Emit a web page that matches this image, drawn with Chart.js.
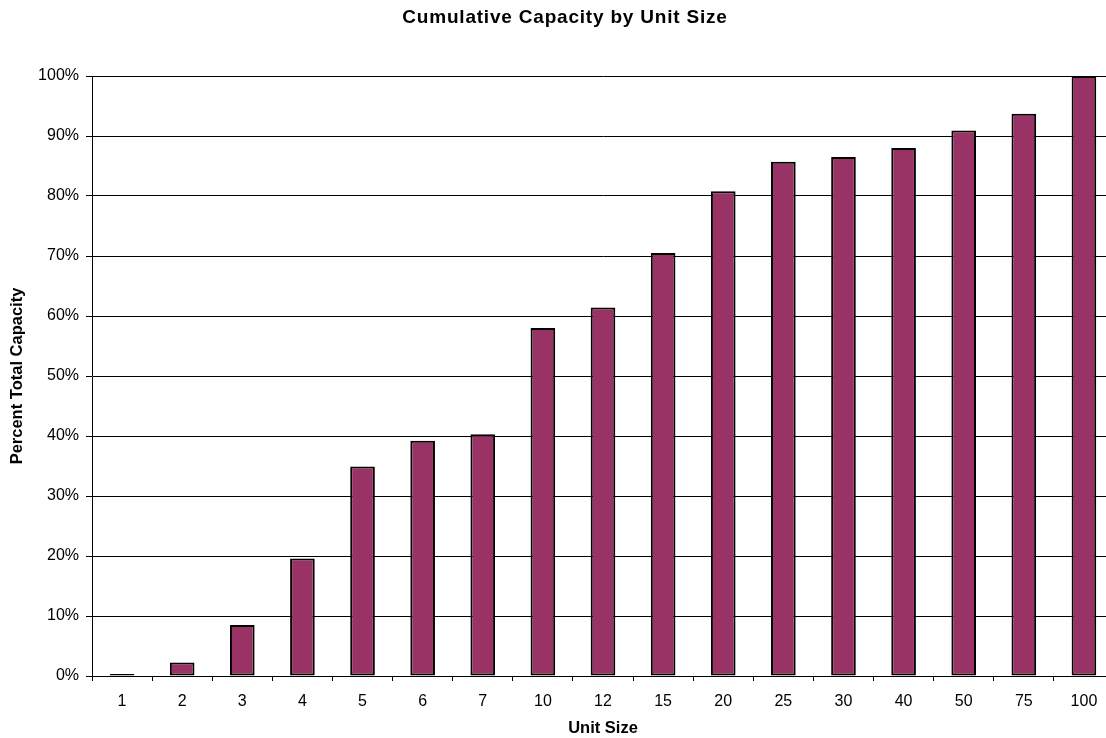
<!DOCTYPE html>
<html>
<head>
<meta charset="utf-8">
<title>Cumulative Capacity by Unit Size</title>
<script src="https://cdn.jsdelivr.net/npm/chart.js@4.4.1/dist/chart.umd.min.js"></script>
<style>
  html, body { margin: 0; padding: 0; background: #fff; overflow: hidden; width: 1106px; height: 738px; }
  canvas { display: block; }
</style>
</head>
<body>
<canvas id="chart" width="1120" height="738"></canvas>
<script>
// Unit size categories along the x axis
const unitSizes = ['1', '2', '3', '4', '5', '6', '7', '10', '12', '15', '20', '25', '30', '40', '50', '75', '100'];
// Cumulative share of total capacity (percent) up to each unit size
const cumulativePct = [0.35, 2.25, 8.5, 19.6, 34.9, 39.2, 40.3, 58.0, 61.4, 70.5, 80.8, 85.7, 86.5, 88.0, 90.9, 93.7, 100];
// Value axis ticks (percent)
const yTickValues = [0, 10, 20, 30, 40, 50, 60, 70, 80, 90, 100];

const chartTitle = 'Cumulative Capacity by Unit Size';
const xAxisTitle = 'Unit Size';
const yAxisTitle = 'Percent Total Capacity';

const FONT = '"Liberation Sans", Arial, Helvetica, sans-serif';

// Chart title drawn centred above the plot
const titlePlugin = {
  id: 'chartHeading',
  afterDraw(chart) {
    const ctx = chart.ctx;
    ctx.save();
    ctx.font = 'bold 19px ' + FONT;
    ctx.fillStyle = '#000';
    ctx.textAlign = 'center';
    ctx.textBaseline = 'middle';
    if ('letterSpacing' in ctx) ctx.letterSpacing = '0.8px';
    ctx.fillText(chartTitle, 565, 17.5);
    ctx.restore();
  }
};

new Chart(document.getElementById('chart'), {
  type: 'bar',
  data: {
    labels: unitSizes,
    datasets: [{
      data: cumulativePct,
      backgroundColor: '#993366',
      borderColor: '#000',
      borderWidth: 2,
      borderSkipped: false,
      categoryPercentage: 1.0,
      barPercentage: 0.41
    }]
  },
  options: {
    responsive: false,
    animation: false,
    devicePixelRatio: 1,
    layout: { padding: { top: 76, right: 6, left: 0, bottom: 0 } },
    plugins: {
      legend: { display: false },
      title: { display: false },
      tooltip: { enabled: false }
    },
    scales: {
      x: {
        offset: true,
        grid: {
          display: true,
          offset: true,
          drawOnChartArea: false,
          drawTicks: true,
          tickLength: 5,
          color: '#000',
          lineWidth: 1
        },
        border: { display: true, color: '#000', width: 1 },
        ticks: {
          color: '#000',
          font: { family: FONT, size: 16 },
          padding: 11,
          maxRotation: 0,
          autoSkip: false
        },
        title: {
          display: true,
          text: xAxisTitle,
          color: '#000',
          font: { family: FONT, size: 16.5, weight: 'bold', lineHeight: 1.1 },
          padding: { top: 0, bottom: 0 }
        },
        afterFit(scale) { scale.height = 62; }
      },
      y: {
        min: 0,
        max: 100,
        afterBuildTicks(scale) { scale.ticks = yTickValues.map(v => ({ value: v })); },
        grid: {
          color: '#000',
          lineWidth: 1,
          drawTicks: true,
          tickLength: 6
        },
        border: { display: true, color: '#000', width: 1 },
        ticks: {
          color: '#000',
          font: { family: FONT, size: 16 },
          padding: 7,
          callback: v => v + '%'
        },
        title: {
          display: true,
          text: yAxisTitle,
          color: '#000',
          font: { family: FONT, size: 16.5, weight: 'bold', lineHeight: 1.1 },
          padding: { top: 8.7, bottom: 0 }
        },
        afterFit(scale) { scale.width = 92; }
      }
    }
  },
  plugins: [titlePlugin]
});
</script>
</body>
</html>
